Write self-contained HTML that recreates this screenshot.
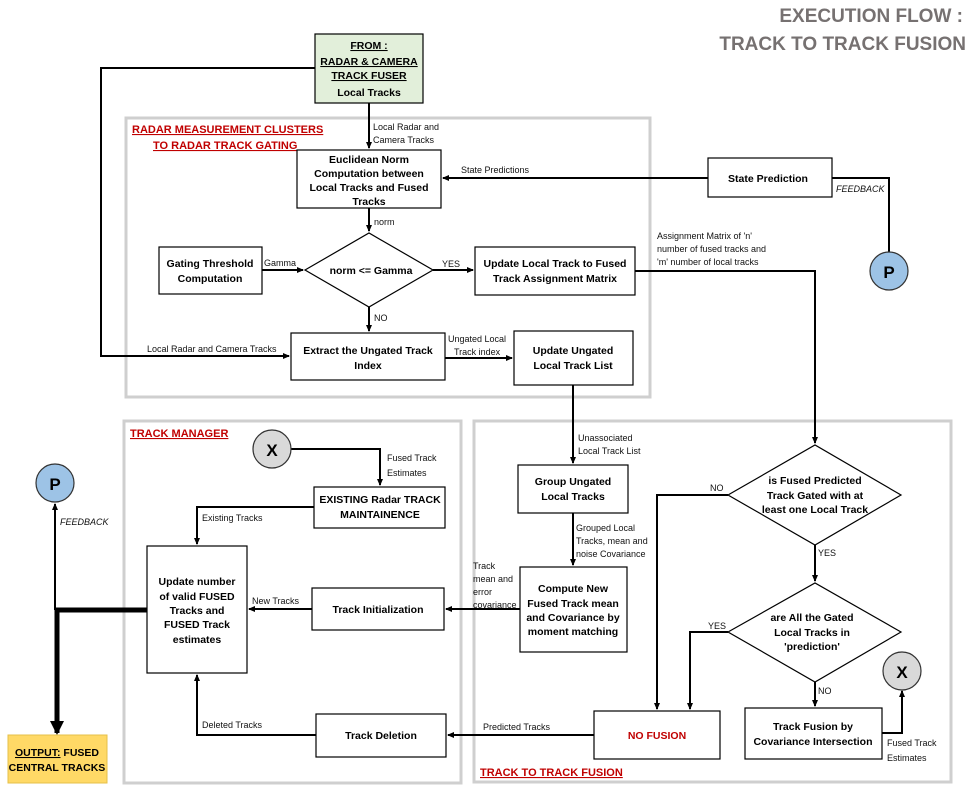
<!DOCTYPE html>
<html><head><meta charset="utf-8"><style>
body{margin:0;background:#fff}
svg{display:block;font-family:"Liberation Sans",sans-serif}
.b{font-weight:bold;font-size:10.5px;fill:#000}
.l{font-size:9px;fill:#111}
.p{fill:none;stroke:#bbb;stroke-width:3;stroke-opacity:.7}
.bx{fill:#fff;stroke:#000;stroke-width:1.2}
.c{fill:none;stroke:#000;stroke-width:2}
.h{font-weight:bold;font-size:11px;fill:#c00000;text-decoration:underline}
</style></head><body>
<svg width="971" height="792" viewBox="0 0 971 792" xmlns="http://www.w3.org/2000/svg">
<defs><marker id="a" markerWidth="8" markerHeight="8" refX="6" refY="4" orient="auto" markerUnits="userSpaceOnUse"><path d="M0,1 L7,4 L0,7z" fill="#000"/></marker>
<marker id="A" markerWidth="16" markerHeight="16" refX="12" refY="8" orient="auto" markerUnits="userSpaceOnUse"><path d="M0,1 L14,8 L0,15z" fill="#000"/></marker></defs>

<text x="963" y="22" text-anchor="end" font-weight="bold" font-size="19" fill="#767171">EXECUTION FLOW :</text>
<text x="966" y="50" text-anchor="end" font-weight="bold" font-size="19" fill="#767171">TRACK TO TRACK FUSION</text>

<!-- panels -->
<rect class="p" x="126" y="118" width="524" height="279"/>
<rect class="p" x="124" y="421" width="337" height="362"/>
<rect class="p" x="474" y="421" width="477" height="361"/>
<text class="h" x="132" y="133">RADAR MEASUREMENT CLUSTERS</text>
<text class="h" x="153" y="149">TO RADAR TRACK GATING</text>
<text class="h" x="130" y="437">TRACK MANAGER</text>
<text class="h" x="480" y="776">TRACK TO TRACK FUSION</text>

<!-- connectors -->
<path class="c" d="M369,103 V148" marker-end="url(#a)"/>
<path class="c" d="M315,68 H101 V356 H289" marker-end="url(#a)"/>
<path class="c" d="M889,252 V178 H443" marker-end="url(#a)"/>
<path class="c" d="M369,208 V231" marker-end="url(#a)"/>
<path class="c" d="M262,270 H303" marker-end="url(#a)"/>
<path class="c" d="M433,270 H473" marker-end="url(#a)"/>
<path class="c" d="M369,307 V331" marker-end="url(#a)"/>
<path class="c" d="M445,358 H512" marker-end="url(#a)"/>
<path class="c" d="M635,271 H815 V443" marker-end="url(#a)"/>
<path class="c" d="M573,385 V463" marker-end="url(#a)"/>
<path class="c" d="M573,513 V565" marker-end="url(#a)"/>
<path class="c" d="M815,545 V581" marker-end="url(#a)"/>
<path class="c" d="M815,682 V706" marker-end="url(#a)"/>
<path class="c" d="M728,495 H657 V709" marker-end="url(#a)"/>
<path class="c" d="M728,632 H690 V709" marker-end="url(#a)"/>
<path class="c" d="M882,733 H902 V691" marker-end="url(#a)"/>
<path class="c" d="M520,609 H446" marker-end="url(#a)"/>
<path class="c" d="M594,735 H448" marker-end="url(#a)"/>
<path class="c" d="M291,449 H380 V485" marker-end="url(#a)"/>
<path class="c" d="M314,507 H197 V544" marker-end="url(#a)"/>
<path class="c" d="M312,609 H249" marker-end="url(#a)"/>
<path class="c" d="M316,735 H197 V675" marker-end="url(#a)"/>
<path d="M147,610 H57 V733" fill="none" stroke="#000" stroke-width="5" marker-end="url(#A)"/>
<path class="c" d="M55,610 V504" marker-end="url(#a)"/>

<!-- boxes -->
<rect x="315" y="34" width="108" height="69" fill="#e2efda" stroke="#000" stroke-width="1.2"/>
<text class="b" text-anchor="middle" font-size="10"><tspan x="369" y="49" text-decoration="underline">FROM :</tspan><tspan x="369" y="65" text-decoration="underline">RADAR &amp; CAMERA</tspan><tspan x="369" y="79" text-decoration="underline">TRACK FUSER</tspan><tspan x="369" y="96">Local Tracks</tspan></text>

<rect class="bx" x="297" y="150" width="144" height="58"/>
<text class="b" text-anchor="middle" font-size="10.5"><tspan x="369" y="163">Euclidean Norm</tspan><tspan x="369" y="177">Computation between</tspan><tspan x="369" y="191">Local Tracks and Fused</tspan><tspan x="369" y="205">Tracks</tspan></text>

<rect class="bx" x="708" y="158" width="124" height="39"/>
<text class="b" x="768" y="182" text-anchor="middle">State Prediction</text>

<rect class="bx" x="159" y="247" width="103" height="47"/>
<text class="b" text-anchor="middle"><tspan x="210" y="267">Gating Threshold</tspan><tspan x="210" y="282">Computation</tspan></text>

<polygon class="bx" points="305,270 369,233 433,270 369,307"/>
<text class="b" x="371" y="274" text-anchor="middle">norm &lt;= Gamma</text>

<rect class="bx" x="475" y="247" width="160" height="48"/>
<text class="b" text-anchor="middle"><tspan x="555" y="267">Update Local Track to Fused</tspan><tspan x="555" y="282">Track Assignment Matrix</tspan></text>

<rect class="bx" x="291" y="333" width="154" height="47"/>
<text class="b" text-anchor="middle"><tspan x="368" y="354">Extract the Ungated Track</tspan><tspan x="368" y="369">Index</tspan></text>

<rect class="bx" x="514" y="331" width="119" height="54"/>
<text class="b" text-anchor="middle"><tspan x="573" y="354">Update Ungated</tspan><tspan x="573" y="369">Local Track List</tspan></text>

<rect class="bx" x="518" y="465" width="110" height="48"/>
<text class="b" text-anchor="middle"><tspan x="573" y="485">Group Ungated</tspan><tspan x="573" y="500">Local Tracks</tspan></text>

<rect class="bx" x="520" y="567" width="107" height="85"/>
<text class="b" text-anchor="middle"><tspan x="573" y="592">Compute New</tspan><tspan x="573" y="607">Fused Track mean</tspan><tspan x="573" y="621">and Covariance by</tspan><tspan x="573" y="635">moment matching</tspan></text>

<polygon class="bx" points="728,495 815,445 901,495 815,545"/>
<text class="b" text-anchor="middle"><tspan x="815" y="484">is Fused Predicted</tspan><tspan x="815" y="499">Track Gated with at</tspan><tspan x="815" y="513">least one Local Track</tspan></text>

<polygon class="bx" points="728,632 815,583 901,632 815,682"/>
<text class="b" text-anchor="middle"><tspan x="812" y="621">are All the Gated</tspan><tspan x="812" y="636">Local Tracks in</tspan><tspan x="812" y="650">'prediction'</tspan></text>

<rect class="bx" x="594" y="711" width="126" height="48"/>
<text class="b" x="657" y="739" text-anchor="middle" style="fill:#c00000">NO FUSION</text>

<rect class="bx" x="745" y="708" width="137" height="51"/>
<text class="b" text-anchor="middle"><tspan x="813" y="730">Track Fusion by</tspan><tspan x="813" y="745">Covariance Intersection</tspan></text>

<rect class="bx" x="314" y="487" width="131" height="41"/>
<text class="b" text-anchor="middle"><tspan x="380" y="503">EXISTING Radar TRACK</tspan><tspan x="380" y="518">MAINTAINENCE</tspan></text>

<rect class="bx" x="147" y="546" width="100" height="127"/>
<text class="b" text-anchor="middle"><tspan x="197" y="585">Update number</tspan><tspan x="197" y="600">of valid FUSED</tspan><tspan x="197" y="614">Tracks and</tspan><tspan x="197" y="628">FUSED Track</tspan><tspan x="197" y="643">estimates</tspan></text>

<rect class="bx" x="312" y="588" width="132" height="42"/>
<text class="b" x="378" y="613" text-anchor="middle">Track Initialization</text>

<rect class="bx" x="316" y="714" width="130" height="43"/>
<text class="b" x="381" y="739" text-anchor="middle">Track Deletion</text>

<rect x="8" y="735" width="99" height="48" fill="#ffd966" stroke="#e6c04a" stroke-width="1"/>
<text class="b" text-anchor="middle"><tspan x="57" y="756"><tspan text-decoration="underline">OUTPUT:</tspan> FUSED</tspan><tspan x="57" y="771">CENTRAL TRACKS</tspan></text>

<!-- circles -->
<circle cx="889" cy="271" r="19" fill="#9dc3e6" stroke="#333" stroke-width="1.2"/>
<text x="889" y="278" text-anchor="middle" font-weight="bold" font-size="17">P</text>
<circle cx="55" cy="483" r="19" fill="#9dc3e6" stroke="#333" stroke-width="1.2"/>
<text x="55" y="490" text-anchor="middle" font-weight="bold" font-size="17">P</text>
<circle cx="272" cy="449" r="19" fill="#d9d9d9" stroke="#333" stroke-width="1.2"/>
<text x="272" y="456" text-anchor="middle" font-weight="bold" font-size="17">X</text>
<circle cx="902" cy="671" r="19" fill="#d9d9d9" stroke="#333" stroke-width="1.2"/>
<text x="902" y="678" text-anchor="middle" font-weight="bold" font-size="17">X</text>

<!-- labels -->
<text class="l"><tspan x="373" y="130">Local Radar and</tspan><tspan x="373" y="143">Camera Tracks</tspan></text>
<text class="l" x="461" y="173">State Predictions</text>
<text class="l" x="836" y="192" font-style="italic">FEEDBACK</text>
<text class="l" x="374" y="225">norm</text>
<text class="l" x="264" y="266">Gamma</text>
<text class="l" x="442" y="267">YES</text>
<text class="l" x="374" y="321">NO</text>
<text class="l" x="147" y="352">Local Radar and Camera Tracks</text>
<text class="l"><tspan x="448" y="342">Ungated Local</tspan><tspan x="454" y="355">Track index</tspan></text>
<text class="l"><tspan x="657" y="239">Assignment Matrix of 'n'</tspan><tspan x="657" y="252">number of fused tracks and</tspan><tspan x="657" y="265">'m' number of local tracks</tspan></text>
<text class="l"><tspan x="578" y="441">Unassociated</tspan><tspan x="578" y="454">Local Track List</tspan></text>
<text class="l"><tspan x="576" y="531">Grouped Local</tspan><tspan x="576" y="544">Tracks, mean and</tspan><tspan x="576" y="557">noise Covariance</tspan></text>
<text class="l"><tspan x="473" y="569">Track</tspan><tspan x="473" y="582">mean and</tspan><tspan x="473" y="595">error</tspan><tspan x="473" y="608">covariance</tspan></text>
<text class="l" x="710" y="491">NO</text>
<text class="l" x="818" y="556">YES</text>
<text class="l" x="708" y="629">YES</text>
<text class="l" x="818" y="694">NO</text>
<text class="l"><tspan x="887" y="746">Fused Track</tspan><tspan x="887" y="761">Estimates</tspan></text>
<text class="l" x="483" y="730">Predicted Tracks</text>
<text class="l"><tspan x="387" y="461">Fused Track</tspan><tspan x="387" y="476">Estimates</tspan></text>
<text class="l" x="202" y="521">Existing Tracks</text>
<text class="l" x="252" y="604">New Tracks</text>
<text class="l" x="202" y="728">Deleted Tracks</text>
<text class="l" x="60" y="525" font-style="italic">FEEDBACK</text>
</svg>
</body></html>
